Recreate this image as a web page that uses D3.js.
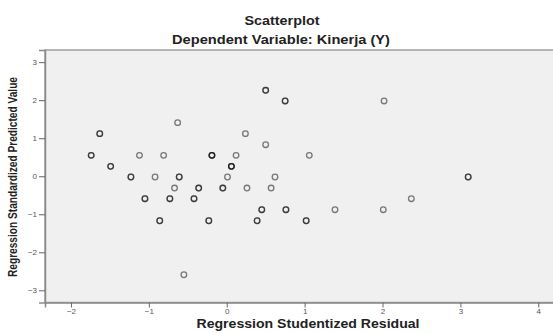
<!DOCTYPE html>
<html>
<head>
<meta charset="utf-8">
<script src="https://cdn.jsdelivr.net/npm/d3@7"></script>
<style>
  body { margin: 0; background: #fff; }
  svg { display: block; font-family: "Liberation Sans", Arial, sans-serif; }
</style>
</head>
<body>
<div id="chart"></div>
<script>
// Studentized residual (x), standardized predicted value (y), cases at that spot
const residual = [0.50, 0.75, -0.63, -1.63, 0.24, 0.50, -1.74, -1.12, -0.81, -0.19,
  0.12, -1.49, 0.06, -1.23, -0.92, -0.61, 0.01, 0.62, -0.67, -0.36,
  -0.05, 0.26, 0.57, -1.05, -0.73, -0.42, 0.45, 0.76, -0.86, -0.23,
  0.39, -0.55, 2.02, 1.06, 3.10, 2.37, 1.39, 2.01, 1.02];
const predicted = [2.26, 1.98, 1.41, 1.12, 1.12, 0.83, 0.55, 0.55, 0.55, 0.55,
  0.55, 0.26, 0.26, -0.02, -0.02, -0.02, -0.02, -0.02, -0.31, -0.31,
  -0.31, -0.31, -0.31, -0.59, -0.59, -0.59, -0.88, -0.88, -1.17, -1.17,
  -1.17, -2.59, 1.98, 0.55, -0.02, -0.59, -0.88, -0.88, -1.17];
const cases = [2, 2, 1, 2, 1, 1, 2, 1, 1, 3,
  1, 2, 3, 2, 1, 2, 1, 1, 1, 2,
  2, 1, 1, 2, 2, 2, 2, 2, 2, 2,
  2, 1, 1, 1, 2, 1, 1, 1, 2];
const xTicks = [-2, -1, 0, 1, 2, 3, 4];
const yTicks = [-3, -2, -1, 0, 1, 2, 3];

const width = 553, height = 333;
const plot = {left: 45, top: 50, right: 571, bottom: 302.5};

const svg = d3.select("#chart").append("svg")
  .attr("width", width)
  .attr("height", height);

const x = d3.scaleLinear().domain([-2.333, 4.42]).range([plot.left, plot.right]);
const y = d3.scaleLinear().domain([-3.32, 3.32]).range([plot.bottom, plot.top]);

// plot area
svg.append("rect")
  .attr("x", plot.left)
  .attr("y", plot.top)
  .attr("width", plot.right - plot.left)
  .attr("height", plot.bottom - plot.top)
  .attr("fill", "#f0f0f0")
  .attr("stroke", "#a0a0a0")
  .attr("stroke-width", 1.5);

// axes
const xAxis = svg.append("g")
  .attr("transform", `translate(0,${plot.bottom})`)
  .call(d3.axisBottom(x).tickValues(xTicks).tickSize(5).tickPadding(1).tickFormat(d3.format("d")));
const yAxis = svg.append("g")
  .attr("transform", `translate(${plot.left},0)`)
  .call(d3.axisLeft(y).tickValues(yTicks).tickSize(6).tickPadding(2).tickFormat(d3.format("d")));

[xAxis, yAxis].forEach(g => {
  g.select(".domain").attr("stroke", "#8a8a8a").attr("stroke-width", 1.5);
  g.selectAll(".tick line").attr("stroke", "#666");
  g.selectAll(".tick text")
    .attr("fill", "#555")
    .style("font-size", "8px");
});

// points: one circle per case so overlapping cases look darker
const points = [];
residual.forEach((r, i) => {
  for (let k = 0; k < cases[i]; k++) points.push({x: r, y: predicted[i]});
});

svg.append("g")
  .selectAll("circle")
  .data(points)
  .join("circle")
  .attr("cx", d => x(d.x))
  .attr("cy", d => y(d.y))
  .attr("r", 2.8)
  .attr("fill", "none")
  .attr("stroke", "#000")
  .attr("stroke-opacity", 0.5)
  .attr("stroke-width", 1.3);

// titles (source text is drawn a little wider than Arial, so stretch to fit)
function label(text, x0, y0, len, size, rotate) {
  return svg.append("text")
    .attr("transform", `translate(${x0},${y0})` + (rotate ? " rotate(-90)" : ""))
    .attr("text-anchor", "middle")
    .attr("textLength", len)
    .attr("lengthAdjust", "spacingAndGlyphs")
    .style("font-size", size + "px")
    .style("font-weight", "bold")
    .attr("fill", "#222")
    .text(text);
}

label("Scatterplot", 282, 25, 75, 12);
label("Dependent Variable: Kinerja (Y)", 281, 44, 218, 12);
label("Regression Studentized Residual", 308, 328, 223, 12);
label("Regression Standardized Predicted Value", 17, 177, 200, 12, true);
</script>
</body>
</html>
